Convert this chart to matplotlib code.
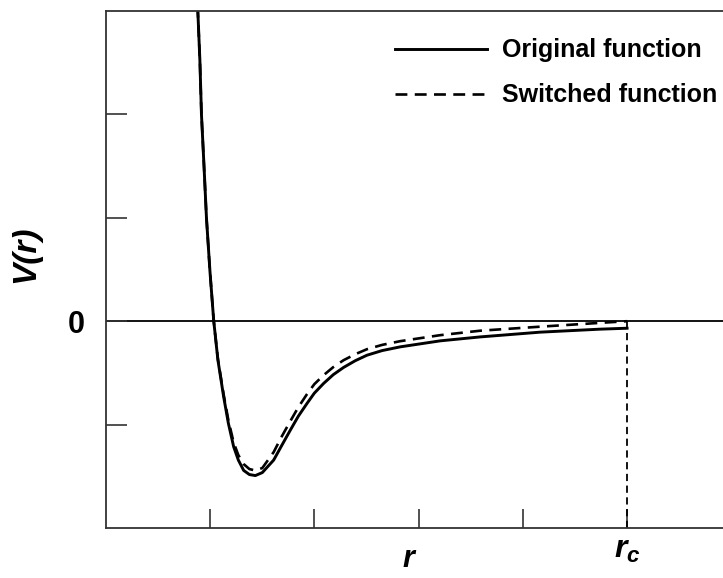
import matplotlib
matplotlib.use("Agg")
import matplotlib.pyplot as plt

plt.rcParams['font.family'] = ['Liberation Sans', 'DejaVu Sans']
plt.rcParams['mathtext.fontset'] = 'custom'
plt.rcParams['mathtext.it'] = 'Liberation Sans:bold:italic'
plt.rcParams['mathtext.rm'] = 'Liberation Sans:bold'

# distance r (arbitrary units, r_c = 5)
r = [0.879, 0.901, 0.916, 0.940, 0.964, 0.997, 1.034, 1.074, 1.129, 1.174,
     1.225, 1.270, 1.321, 1.376, 1.433, 1.500, 1.609, 1.683, 1.769, 1.846,
     1.929, 1.999, 2.088, 2.181, 2.280, 2.392, 2.504, 2.650, 2.824, 3.207,
     3.590, 4.166, 4.741, 5.0]

v_original = [3.05, 2.52, 2.0, 1.51, 1.0, 0.49, 0.0, -0.377, -0.731, -0.986,
              -1.214, -1.343, -1.443, -1.483, -1.493, -1.464, -1.343, -1.208,
              -1.053, -0.918, -0.795, -0.696, -0.602, -0.517, -0.447, -0.382,
              -0.329, -0.284, -0.248, -0.190, -0.152, -0.106, -0.077, -0.068]

v_switched = [3.05, 2.52, 2.0, 1.51, 1.0, 0.49, 0.0, -0.367, -0.710, -0.957,
              -1.174, -1.295, -1.382, -1.430, -1.444, -1.420, -1.266, -1.121,
              -0.966, -0.831, -0.705, -0.609, -0.522, -0.444, -0.377, -0.319,
              -0.271, -0.229, -0.193, -0.135, -0.092, -0.053, -0.016, 0.0]

r_cut = 5.0
x_ticks = [1, 2, 3, 4, 5]
x_labels = ['', '', '', '', '$r_c$']
y_ticks = [-1, 0, 1, 2]
y_labels = ['', '0', '', '']

fig = plt.figure(figsize=(7.23, 5.78), dpi=100)
ax = fig.add_axes([106 / 723, 1 - 528 / 578, 1 - 106 / 723 + 0.01, (528 - 11) / 578])

ax.axhline(0, color='black', lw=1.3, zorder=1)
l1, = ax.plot(r, v_original, color='black', lw=2.1, label='Original function')
l2, = ax.plot(r, v_switched, color='black', lw=1.9, dashes=(4.5, 2.8),
              label='Switched function')
ax.plot([r_cut, r_cut], [-2, 0], color='black', lw=1.3, dashes=(4, 2.5))

ax.set_xlim(0, 5.99)
ax.set_ylim(-2, 3)

for side in ['left', 'bottom', 'top']:
    ax.spines[side].set_color('#333333')
    ax.spines[side].set_linewidth(1.3)
ax.spines['right'].set_visible(False)

ax.set_xticks(x_ticks)
ax.set_xticklabels(x_labels, fontsize=23)
ax.set_yticks(y_ticks)
ax.set_yticklabels(y_labels, fontsize=22, fontweight='bold')
ax.tick_params(axis='y', direction='in', length=15, width=1.2, color='#333333', pad=15)
ax.tick_params(axis='x', direction='in', length=13.5, width=1.2, color='#333333', pad=5)

fig.text(26 / 723, 1 - 254 / 578, 'V(r)', rotation=90, fontsize=24,
         fontweight='bold', fontstyle='italic', ha='center', va='center')
fig.text(408 / 723, 1 - 574 / 578, 'r', fontsize=22, fontweight='bold',
         fontstyle='italic', ha='center', va='bottom')

ax.legend(handles=[l1, l2], loc='upper left', frameon=False,
          bbox_to_anchor=(395 / 723, 1 - 38.5 / 578), bbox_transform=fig.transFigure,
          prop={'weight': 'bold', 'size': 18}, handlelength=3.7, handletextpad=0.6,
          labelspacing=0.84, borderpad=0, borderaxespad=0)

fig.savefig('out.png', dpi=100)
